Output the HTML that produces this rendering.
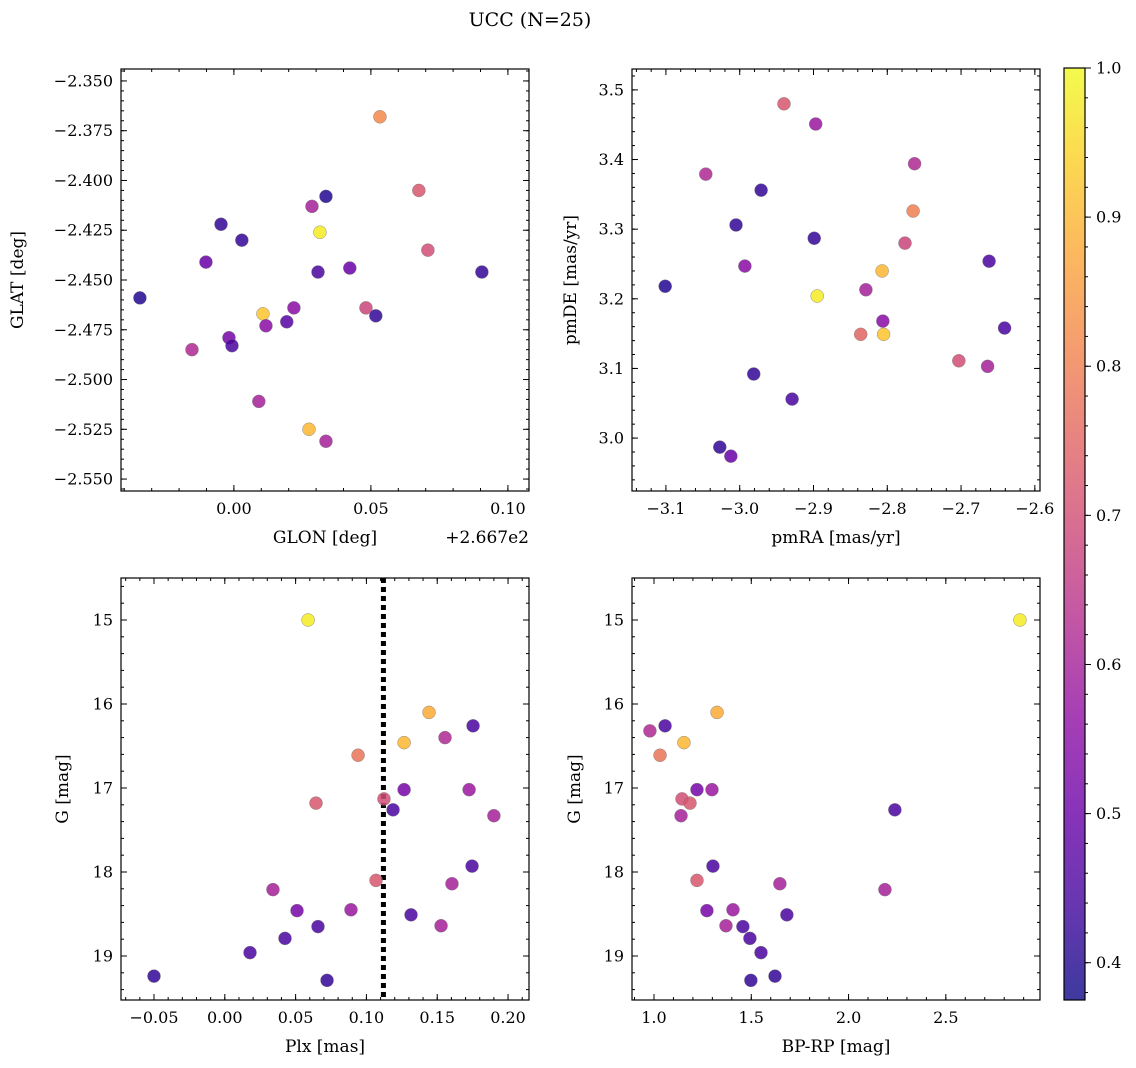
<!DOCTYPE html>
<html><head><meta charset="utf-8"><style>
html,body{margin:0;padding:0;background:#fff;}
svg{display:block;font-family:"DejaVu Serif","Liberation Serif",serif;}
</style></head><body>
<svg id="fig" width="1136" height="1068" viewBox="0 0 1136 1068" xmlns="http://www.w3.org/2000/svg">
<defs><linearGradient id="cbg" x1="0" y1="1" x2="0" y2="0"></linearGradient></defs>
<text x="530" y="26" font-size="19" text-anchor="middle">UCC (N=25)</text>
</svg>
<script>
// Panel 1: GLON / GLAT
const glon = [266.7533,266.7675,266.7708,266.7336,266.7285,266.6953,266.7314,266.7029,266.6898,266.7307,266.7423,266.7905,266.6657,266.7219,266.7482,266.7106,266.7518,266.7193,266.7117,266.6982,266.6993,266.6847,266.7091,266.7274,266.7336];
const glat = [-2.368,-2.405,-2.435,-2.408,-2.413,-2.422,-2.426,-2.430,-2.441,-2.446,-2.444,-2.446,-2.459,-2.464,-2.464,-2.467,-2.468,-2.471,-2.473,-2.479,-2.483,-2.485,-2.511,-2.525,-2.531];
const c1 = [0.82,0.72,0.70,0.40,0.60,0.42,0.98,0.42,0.50,0.45,0.50,0.42,0.40,0.55,0.68,0.92,0.42,0.47,0.55,0.52,0.45,0.62,0.60,0.90,0.60];
// Panel 2: pmRA / pmDE
const pmra = [-2.940,-2.897,-2.763,-3.046,-2.971,-2.765,-3.005,-2.899,-2.776,-2.993,-2.807,-2.662,-3.101,-2.829,-2.895,-2.806,-2.641,-2.836,-2.805,-2.703,-2.664,-2.981,-2.929,-3.027,-3.012];
const pmde = [3.480,3.451,3.394,3.379,3.356,3.326,3.306,3.287,3.280,3.247,3.240,3.254,3.218,3.213,3.204,3.168,3.158,3.149,3.149,3.111,3.103,3.092,3.056,2.987,2.974];
const c2 = [0.72,0.58,0.62,0.62,0.42,0.80,0.42,0.42,0.68,0.55,0.90,0.45,0.40,0.60,0.98,0.55,0.45,0.75,0.92,0.70,0.60,0.42,0.45,0.42,0.50];
// Panel 3: Plx / G
const plx = [0.0588,0.1442,0.1555,0.1753,0.1266,0.0941,0.0644,0.1124,0.1266,0.1725,0.1188,0.190,0.1746,0.1604,0.1068,0.034,0.051,0.0891,0.1315,0.1527,0.0658,0.0425,0.0178,-0.05,0.0722];
const gmag3 = [15.00,16.10,16.40,16.26,16.46,16.61,17.18,17.13,17.02,17.02,17.26,17.33,17.93,18.14,18.10,18.21,18.46,18.45,18.51,18.64,18.65,18.79,18.96,19.24,19.29];
const c3 = [0.98,0.88,0.62,0.45,0.90,0.78,0.72,0.70,0.52,0.58,0.45,0.60,0.45,0.60,0.72,0.60,0.52,0.58,0.45,0.60,0.45,0.45,0.45,0.42,0.42];
const plxLine = [0.112];
// Panel 4: BP-RP / G
const bprp = [2.881,0.979,1.057,1.324,1.031,1.154,1.221,1.298,1.144,1.185,1.139,2.238,1.303,1.221,1.647,2.187,1.272,1.406,1.683,1.370,1.457,1.493,1.550,1.622,1.498];
const gmag4 = [15.00,16.32,16.26,16.10,16.61,16.46,17.02,17.02,17.13,17.18,17.33,17.26,17.93,18.10,18.14,18.21,18.46,18.45,18.51,18.64,18.65,18.79,18.96,19.24,19.29];
const c4 = [0.98,0.62,0.45,0.88,0.78,0.90,0.52,0.58,0.70,0.72,0.60,0.45,0.45,0.72,0.60,0.60,0.52,0.58,0.45,0.60,0.45,0.45,0.45,0.42,0.42];
const cbTicks = [0.4,0.5,0.6,0.7,0.8,0.9,1.0];

const NS="http://www.w3.org/2000/svg";
const svg=document.getElementById('fig');
const stops=["#0d0887","#41049d","#6a00a8","#8f0da4","#b12a90","#cc4778","#e16462","#f2844b","#fca636","#fcce25","#f0f921"];
const VMIN=0.375,VMAX=1.0;
function hex(h){return [1,3,5].map(i=>parseInt(h.substr(i,2),16));}
function plasma(t){t=Math.max(0,Math.min(1,t));const f=t*10,i=Math.min(9,Math.floor(f)),r=f-i;const a=hex(stops[i]),b=hex(stops[i+1]);return 'rgb('+a.map((v,k)=>Math.round(v+(b[k]-v)*r)).join(',')+')';}
function cmap(v){return plasma((v-VMIN)/(VMAX-VMIN));}
function el(tag,attrs,parent){const e=document.createElementNS(NS,tag);for(const k in attrs)e.setAttribute(k,attrs[k]);(parent||svg).appendChild(e);return e;}
function lin(d0,d1,r0,r1){return v=>r0+(v-d0)/(d1-d0)*(r1-r0);}
function range(a,b,s){const o=[];const n=Math.round((b-a)/s);for(let i=0;i<=n;i++)o.push(+(a+i*s).toFixed(6));return o;}

function panel(p){
  const g=el('g',{});
  
  
  const X=lin(p.xd[0],p.xd[1],p.L,p.R), Y=lin(p.yd[0],p.yd[1],p.T,p.B);
  const tg=el('g',{stroke:'#000','stroke-width':1},g);
  p.xminor.forEach(v=>{const x=X(v);if(x<p.L||x>p.R)return;el('line',{x1:x,x2:x,y1:p.B,y2:p.B-3},tg);el('line',{x1:x,x2:x,y1:p.T,y2:p.T+3},tg);});
  p.yminor.forEach(v=>{const y=Y(v);if(y<p.T||y>p.B)return;el('line',{x1:p.L,x2:p.L+3,y1:y,y2:y},tg);el('line',{x1:p.R,x2:p.R-3,y1:y,y2:y},tg);});
  p.xmajor.forEach((v,i)=>{const x=X(v);el('line',{x1:x,x2:x,y1:p.B,y2:p.B-6},tg);el('line',{x1:x,x2:x,y1:p.T,y2:p.T+6},tg);
    const t=el('text',{x:x,y:p.B+23,'font-size':16,'text-anchor':'middle'},g);t.textContent=p.xlab[i];
    
    });
  p.ymajor.forEach((v,i)=>{const y=Y(v);el('line',{x1:p.L,x2:p.L+6,y1:y,y2:y},tg);el('line',{x1:p.R,x2:p.R-6,y1:y,y2:y},tg);
    const t=el('text',{x:p.L-8,y:y+5.5,'font-size':16,'text-anchor':'end'},g);t.textContent=p.ylab[i];
    
    });
  if(p.vline){p.vline.forEach(v=>{const l=el('line',{x1:X(v),x2:X(v),y1:p.T,y2:p.B,stroke:'#000','stroke-width':5,'stroke-dasharray':'5,4'},g);
    
    });}
  p.xs.forEach((v,i)=>{const c=el('circle',{cx:X(v),cy:Y(p.ys[i]),r:6.5,fill:cmap(p.cs[i]),'fill-opacity':0.85,stroke:'#777','stroke-width':0.4},g);
    
    });
  const fr=el('rect',{x:p.L,y:p.T,width:p.R-p.L,height:p.B-p.T,fill:'none',stroke:'#000','stroke-width':1.2},g);
  
  
  const xl=el('text',{x:p.xlx,y:p.B+52,'font-size':17,'text-anchor':'middle'},g);xl.textContent=p.xt;
  
  
  const cy=(p.T+p.B)/2;
  const yl=el('text',{x:p.ylx,y:cy,'font-size':17,'text-anchor':'middle',transform:'rotate(-90 '+p.ylx+' '+cy+')'},g);yl.textContent=p.yt;
  
  
  if(p.offset){const o=el('text',{x:p.R,y:p.B+52,'font-size':17,'text-anchor':'end'},g);o.textContent=p.offset;
    
    }
}
const f3=v=>v.toFixed(3).replace('-','\u2212'), f2=v=>v.toFixed(2).replace('-','\u2212'), f1=v=>v.toFixed(1).replace('-','\u2212');
const p1xM=range(0,0.10,0.05).map(v=>v+266.7), p1yM=range(-2.55,-2.35,0.025);
panel({name:'glon-glat-panel',L:121,R:529,T:69,B:491,xd:[266.6588,266.8077],yd:[-2.344,-2.556],
  xmajor:p1xM,xlab:range(0,0.10,0.05).map(f2),xminor:range(-0.04,0.10,0.01).map(v=>v+266.7),
  ymajor:p1yM,ylab:p1yM.map(f3),yminor:range(-2.555,-2.345,0.005),
  xs:glon,ys:glat,cs:c1,xt:'GLON [deg]',xlx:325,yt:'GLAT [deg]',ylx:23,offset:'+2.667e2'});
const p2xM=range(-3.1,-2.6,0.1), p2yM=range(3.0,3.5,0.1);
panel({name:'pm-panel',L:632,R:1040,T:69,B:491,xd:[-3.146,-2.593],yd:[3.530,2.924],
  xmajor:p2xM,xlab:p2xM.map(f1),xminor:range(-3.14,-2.6,0.02),
  ymajor:p2yM,ylab:p2yM.map(f1),yminor:range(2.94,3.52,0.02),
  xs:pmra,ys:pmde,cs:c2,xt:'pmRA [mas/yr]',xlx:836,yt:'pmDE [mas/yr]',ylx:576});
const p3xM=range(-0.05,0.20,0.05), gM=range(15,19,1);
panel({name:'plx-g-panel',L:121,R:529,T:578,B:1000,xd:[-0.0733,0.2148],yd:[14.5,19.524],
  xmajor:p3xM,xlab:p3xM.map(f2),xminor:range(-0.07,0.21,0.01),
  ymajor:gM,ylab:gM.map(v=>String(v)),yminor:range(14.6,19.4,0.2),
  xs:plx,ys:gmag3,cs:c3,vline:plxLine,xt:'Plx [mas]',xlx:325,yt:'G [mag]',ylx:68});
const p4xM=range(1.0,2.5,0.5);
panel({name:'cmd-panel',L:632,R:1040,T:578,B:1000,xd:[0.887,2.984],yd:[14.5,19.524],
  xmajor:p4xM,xlab:p4xM.map(f1),xminor:range(0.9,2.9,0.1),
  ymajor:gM,ylab:gM.map(v=>String(v)),yminor:range(14.6,19.4,0.2),
  xs:bprp,ys:gmag4,cs:c4,xt:'BP-RP [mag]',xlx:836,yt:'G [mag]',ylx:580});
// colorbar
const grad=document.getElementById('cbg');
for(let i=0;i<=20;i++){el('stop',{offset:(i/20),'stop-color':plasma(i/20)},grad);}
const cb=el('g',{});


const CT=68,CB=1000,CL=1064,CR=1085;
const CY=lin(VMIN,VMAX,CB,CT);
el('rect',{x:CL,y:CT,width:CR-CL,height:CB-CT,fill:'url(#cbg)','fill-opacity':0.8},cb);
el('rect',{x:CL,y:CT,width:CR-CL,height:CB-CT,fill:'none',stroke:'#000','stroke-width':1.2},cb);
range(0.38,1.0,0.02).forEach(v=>{const y=CY(v);el('line',{x1:CR,x2:CR+3,y1:y,y2:y,stroke:'#000'},cb);});
cbTicks.forEach(v=>{const y=CY(v);el('line',{x1:CR,x2:CR+6,y1:y,y2:y,stroke:'#000'},cb);
  const t=el('text',{x:CR+11,y:y+5.5,'font-size':16},cb);t.textContent=v.toFixed(1);
  
  });
</script>
</body></html>
